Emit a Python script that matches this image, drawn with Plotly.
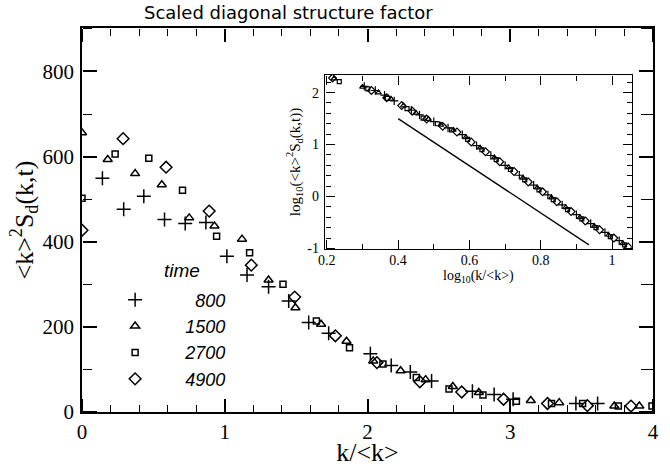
import plotly.graph_objects as go

# ---------------- data ----------------
times = ["800", "1500", "2700", "4900"]

k800 = [0.143, 0.292, 0.433, 0.578, 0.723, 0.868, 1.015, 1.156, 1.307, 1.448, 1.588, 1.728,
        2.02, 2.166, 2.30, 2.449, 2.735, 2.887, 3.02, 3.46, 3.612]
S800 = [549, 476, 507, 452, 443, 445, 366, 322, 294, 261, 210, 185,
        137, 109, 94, 73, 49, 41, 30, 20, 20]

k1500 = [0.0, 0.18, 0.372, 0.559, 0.751, 0.928, 1.121, 1.307, 1.495, 1.675, 1.853, 2.04,
         2.232, 2.407, 2.598, 2.78, 3.144, 3.343, 3.729, 3.904]
S1500 = [656, 593, 560, 534, 456, 437, 406, 310, 245, 206, 166, 120,
         97, 76, 60, 46, 27, 22, 14, 14]

k2700 = [0.0, 0.232, 0.468, 0.704, 0.943, 1.174, 1.408, 1.642, 1.874, 2.108, 2.342, 2.571,
         2.809, 3.043, 3.289, 3.507, 3.757, 3.993]
S2700 = [502, 606, 596, 521, 413, 374, 300, 214, 151, 113, 81, 54,
         40, 25, 20, 20, 14, 14]

k4900 = [0.0, 0.288, 0.589, 0.891, 1.186, 1.49, 1.775, 2.066, 2.367, 2.66, 2.953, 3.261,
         3.54, 3.846]
S4900 = [427, 642, 575, 472, 345, 270, 179, 116, 71, 47, 30, 20, 15, 14]

# inset: log10(k/<k>) vs log10(<k>^2 S_d)
lx800 = [0.305, 0.336, 0.362, 0.389, 0.437, 0.46, 0.50, 0.54, 0.58, 0.62, 0.66, 0.70,
         0.74, 0.78, 0.82, 0.86, 0.90, 0.94, 0.98, 1.02]
ly800 = [2.12, 2.04, 1.95, 1.84, 1.66, 1.57, 1.44, 1.32, 1.19, 0.98, 0.79, 0.60,
         0.41, 0.22, 0.03, -0.16, -0.35, -0.52, -0.69, -0.85]

lx1500 = [0.22, 0.30, 0.345, 0.38, 0.415, 0.45, 0.485, 0.52, 0.555, 0.59, 0.63, 0.67,
          0.71, 0.75, 0.79, 0.83, 0.87, 0.91, 0.95, 0.99, 1.03]
ly1500 = [2.27, 2.11, 2.00, 1.88, 1.75, 1.61, 1.49, 1.38, 1.28, 1.14, 0.94, 0.75,
          0.56, 0.36, 0.17, -0.02, -0.21, -0.40, -0.57, -0.74, -0.90]

lx2700 = [0.235, 0.315, 0.37, 0.425, 0.47, 0.51, 0.55, 0.595, 0.635, 0.675, 0.715, 0.755,
          0.795, 0.835, 0.875, 0.915, 0.955, 0.995, 1.035]
ly2700 = [2.21, 2.07, 1.89, 1.69, 1.51, 1.40, 1.28, 1.10, 0.90, 0.71, 0.52, 0.32,
          0.13, -0.06, -0.25, -0.43, -0.60, -0.77, -0.93]

lx4900 = [0.216, 0.325, 0.368, 0.41, 0.44, 0.48, 0.525, 0.565, 0.605, 0.645, 0.685, 0.725,
          0.765, 0.805, 0.845, 0.885, 0.925, 0.965, 1.005, 1.045]
ly4900 = [2.28, 2.04, 1.90, 1.75, 1.64, 1.49, 1.35, 1.24, 1.05, 0.86, 0.67, 0.48,
          0.28, 0.09, -0.10, -0.29, -0.47, -0.64, -0.80, -0.97]

ref_line_x = [0.40, 0.935]
ref_line_y = [1.50, -0.93]

inset_ytickvals = [-1, 0, 1, 2]
inset_yticktext = ["-1", "0", "1", "2"]

# ---------------- styling ----------------
SERIF = "Liberation Serif"
SANS = "Liberation Sans"
FS = "\u2007"  # figure space for right aligned legend numbers

MAIN_X_RANGE = [0, 4]
MAIN_Y_RANGE = [0, 902]
INSET_X_RANGE = [0.195, 1.055]
INSET_Y_RANGE = [-1.01, 2.34]
INSET_X_DOMAIN = [0.4256, 0.9627]
INSET_Y_DOMAIN = [0.4244, 0.8778]

main_series = [
    (k800, S800, "cross-thin", 10),
    (k1500, S1500, "triangle-up-open", 8),
    (k2700, S2700, "square-open", 6),
    (k4900, S4900, "diamond-open", 9),
]
inset_series = [
    (lx800, ly800, "cross-thin", 6),
    (lx1500, ly1500, "triangle-up-open", 5),
    (lx2700, ly2700, "square-open", 4),
    (lx4900, ly4900, "diamond-open", 6),
]
labels = [FS * 4 + times[0], FS * 3 + times[1], FS * 3 + times[2], FS * 3 + times[3]]

fig = go.Figure()
for (x, y, sym, size), name in zip(main_series, labels):
    fig.add_trace(go.Scatter(
        x=x, y=y, mode="markers", name=name,
        marker=dict(symbol=sym, size=size, color="black",
                    line=dict(color="black", width=1.5)),
    ))
for (x, y, sym, size) in inset_series:
    fig.add_trace(go.Scatter(
        x=x, y=y, mode="markers", showlegend=False, xaxis="x2", yaxis="y2",
        marker=dict(symbol=sym, size=size, color="black",
                    line=dict(color="black", width=1.2)),
    ))
fig.add_trace(go.Scatter(
    x=ref_line_x, y=ref_line_y, mode="lines", showlegend=False, xaxis="x2", yaxis="y2",
    line=dict(color="black", width=1.3),
))

# invisible carrier traces so that the tick-only overlay axes get drawn
for xa, ya, xs, ys in [("x3", "y3", k800, S800), ("x4", "y4", k800, S800),
                       ("x5", "y5", lx800, ly800), ("x6", "y6", lx800, ly800)]:
    fig.add_trace(go.Scatter(
        x=xs, y=ys, mode="markers", showlegend=False, hoverinfo="skip",
        xaxis=xa, yaxis=ya, marker=dict(opacity=0, size=1),
    ))


def ax(**kw):
    base = dict(showline=True, linecolor="black", mirror=True, ticks="",
                showgrid=False, zeroline=False)
    base.update(kw)
    return base


def tick_ax(overlaying, side, position, rng, dtick, tick0, ticklen, minor_dtick,
            minor_len, width=1.4):
    """Unlabelled overlay axis whose outside ticks point into the plot box."""
    return dict(overlaying=overlaying, anchor="free", side=side, position=position,
                range=rng, dtick=dtick, tick0=tick0,
                ticks="outside", ticklen=ticklen, tickwidth=width,
                tickcolor="black", showticklabels=False, showline=False,
                showgrid=False, zeroline=False,
                minor=dict(dtick=minor_dtick, tick0=tick0, ticks="outside", ticklen=minor_len,
                           tickwidth=max(width - 0.3, 1), tickcolor="black"))


fig.update_layout(
    template="none",
    width=670, height=467,
    margin=dict(l=82, r=17, t=28, b=55),
    paper_bgcolor="white", plot_bgcolor="rgba(0,0,0,0)",
    showlegend=True,
    legend=dict(x=0.058, y=0.34, xanchor="left", yanchor="top",
                bgcolor="rgba(0,0,0,0)", borderwidth=0,
                font=dict(family=SANS, size=18, style="italic", color="black"),
                tracegroupgap=0),
    xaxis=ax(range=MAIN_X_RANGE, dtick=1, tick0=0, linewidth=1.8, ticklabelstandoff=0,
             tickfont=dict(family=SERIF, size=21, color="black"),
             title=dict(text="k/&lt;k&gt;", font=dict(family=SERIF, size=26, color="black"),
                        standoff=10)),
    yaxis=ax(range=MAIN_Y_RANGE, dtick=200, tick0=0, linewidth=1.8, ticklabelstandoff=2,
             tickfont=dict(family=SERIF, size=21, color="black"),
             title=dict(text="&lt;k&gt;<sup>2</sup>S<sub>d</sub>(k,t)",
                        font=dict(family=SERIF, size=26, color="black"), standoff=1)),
    xaxis2=ax(domain=INSET_X_DOMAIN, anchor="y2", range=INSET_X_RANGE,
              dtick=0.2, tick0=0.2, linewidth=1.4, ticklabelstandoff=-2,
              tickfont=dict(family=SERIF, size=14, color="black"),
              title=dict(text="log<sub>10</sub>(k/&lt;k&gt;)",
                         font=dict(family=SERIF, size=14, color="black"), standoff=1)),
    yaxis2=ax(domain=INSET_Y_DOMAIN, anchor="x2", range=INSET_Y_RANGE,
              tickvals=inset_ytickvals, ticktext=inset_yticktext, linewidth=1.4,
              ticklabelstandoff=2,
              tickfont=dict(family=SERIF, size=14, color="black"),
              title=dict(text="log<sub>10</sub>(&lt;k&gt;<sup>2</sup>S<sub>d</sub>(k,t))",
                         font=dict(family=SERIF, size=15, color="black"), standoff=3)),
    # inward tick marks (drawn as outward ticks of unlabelled overlay axes)
    xaxis3=tick_ax("x", "top", 0, MAIN_X_RANGE, 1, 0, 13, 0.2, 7, 1.5),
    xaxis4=tick_ax("x", "bottom", 1, MAIN_X_RANGE, 1, 0, 13, 0.2, 7, 1.5),
    yaxis3=tick_ax("y", "right", 0, MAIN_Y_RANGE, 200, 0, 14, 100, 9, 1.5),
    yaxis4=tick_ax("y", "left", 1, MAIN_Y_RANGE, 200, 0, 14, 100, 12, 1.5),
    xaxis5=tick_ax("x2", "top", INSET_Y_DOMAIN[0], INSET_X_RANGE, 0.2, 0.2, 9, 0.1, 5, 1.2),
    xaxis6=tick_ax("x2", "bottom", INSET_Y_DOMAIN[1], INSET_X_RANGE, 0.2, 0.2, 9, 0.1, 5, 1.2),
    yaxis5=tick_ax("y2", "right", INSET_X_DOMAIN[0], INSET_Y_RANGE, 1, 0, 9, 0.2, 5, 1.2),
    yaxis6=tick_ax("y2", "left", INSET_X_DOMAIN[1], INSET_Y_RANGE, 1, 0, 9, 0.2, 5, 1.2),
    annotations=[
        dict(text="Scaled diagonal structure factor", xref="paper", yref="paper",
             x=(288 - 82) / 571, y=1 + (28 - 12) / 384.5, xanchor="center", yanchor="middle",
             showarrow=False, font=dict(family="DejaVu Sans", size=18, color="black")),
        dict(text="time", xref="paper", yref="paper",
             x=(182 - 82) / 571, y=(412.5 - 271) / 384.5, xanchor="center", yanchor="middle",
             showarrow=False, font=dict(family=SANS, size=19, style="italic", color="black")),
    ],
)

fig.write_html("out.html")
